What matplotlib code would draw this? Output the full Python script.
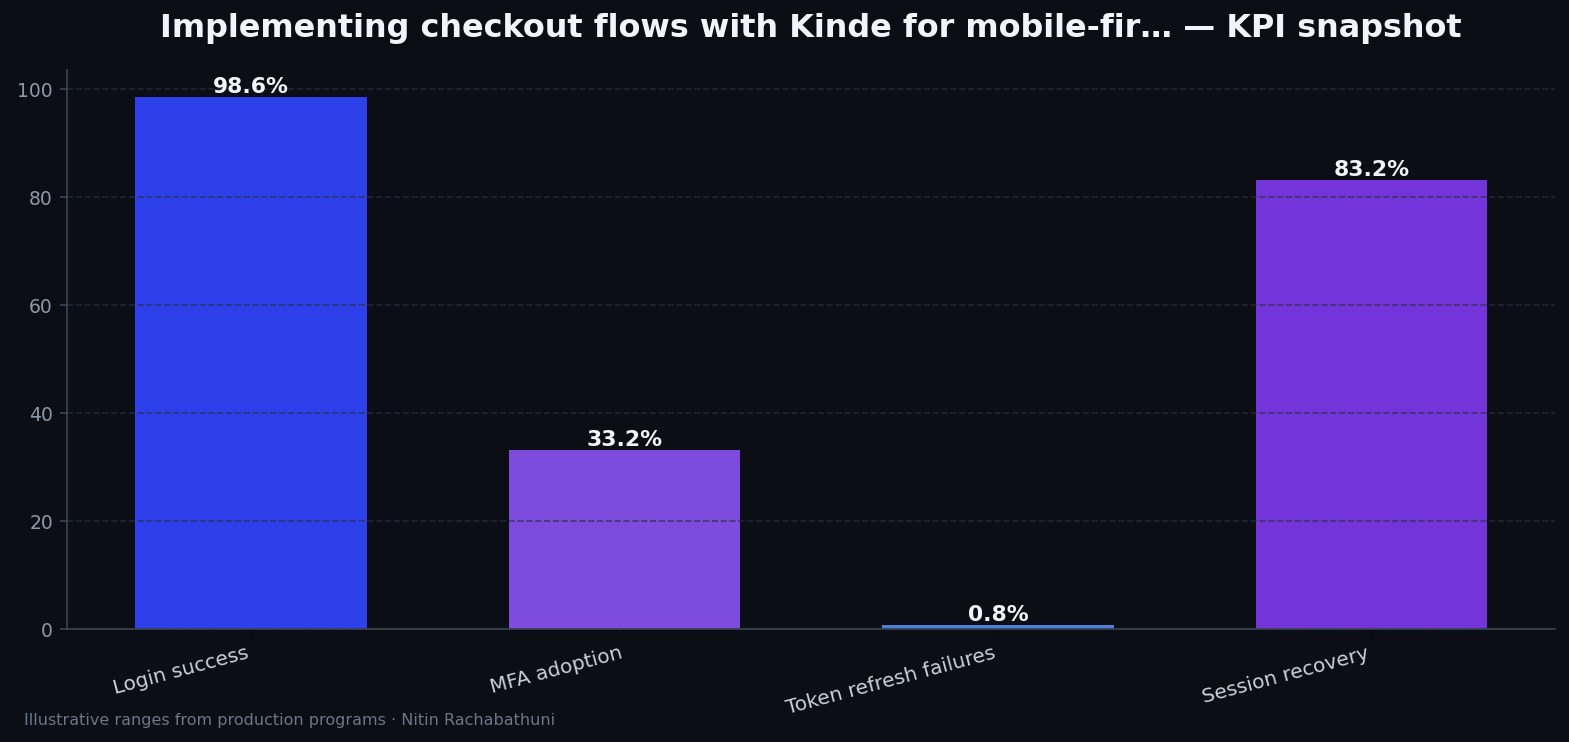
import matplotlib

matplotlib.use("Agg")
import matplotlib.pyplot as plt

# ── Data ────────────────────────────────────────────────────────────────────
CATEGORIES = ["Login success", "MFA adoption", "Token refresh failures", "Session recovery"]
VALUES = [98.6, 33.2, 0.8, 83.2]
BAR_COLORS = ["#2e40ea", "#7e4cdc", "#4f7fd8", "#7335d9"]

TITLE = "Implementing checkout flows with Kinde for mobile-fir\u2026 \u2014 KPI snapshot"
FOOTER = "Illustrative ranges from production programs \u00b7 Nitin Rachabathuni"

BG = "#0b0e14"


def main() -> None:
    fig, ax = plt.subplots(figsize=(10.46, 4.947), dpi=150)
    fig.patch.set_facecolor(BG)
    ax.set_facecolor(BG)

    x = range(len(CATEGORIES))
    bars = ax.bar(x, VALUES, width=0.62, color=BAR_COLORS, zorder=1)

    for rect, v in zip(bars, VALUES):
        ax.text(
            rect.get_x() + rect.get_width() / 2,
            rect.get_height(),
            f"{v:.1f}%",
            ha="center",
            va="bottom",
            color="#f3f4f8",
            fontsize=10.5,
            fontweight="bold",
            zorder=4,
        )

    ax.set_ylim(0, max(VALUES) * 1.05)
    ax.set_xticks(list(x))
    ax.set_xticklabels(CATEGORIES, rotation=15, ha="right", color="#c9d1dd", fontsize=9.7)
    ax.tick_params(axis="x", colors="#05070a", labelcolor="#c9d1dd")
    ax.tick_params(axis="y", colors="#3a4556", labelcolor="#8d99ab", labelsize=9)

    ax.grid(axis="y", linestyle="--", color="#2a3040", alpha=0.7, linewidth=0.8, zorder=2)
    ax.set_axisbelow(False)

    for side in ("top", "right"):
        ax.spines[side].set_visible(False)
    for side in ("left", "bottom"):
        ax.spines[side].set_color("#3a4556")
        ax.spines[side].set_zorder(3)

    ax.set_title(TITLE, color="#f3f4f8", fontsize=15.3, fontweight="bold", pad=16)

    fig.subplots_adjust(left=0.043, right=0.991, top=0.905, bottom=0.152)
    fig.text(0.015, 0.019, FOOTER, color="#6b7688", fontsize=7.7, ha="left", va="bottom")

    fig.savefig("out.png", facecolor=BG, dpi=150)
    plt.close(fig)


if __name__ == "__main__":
    main()
